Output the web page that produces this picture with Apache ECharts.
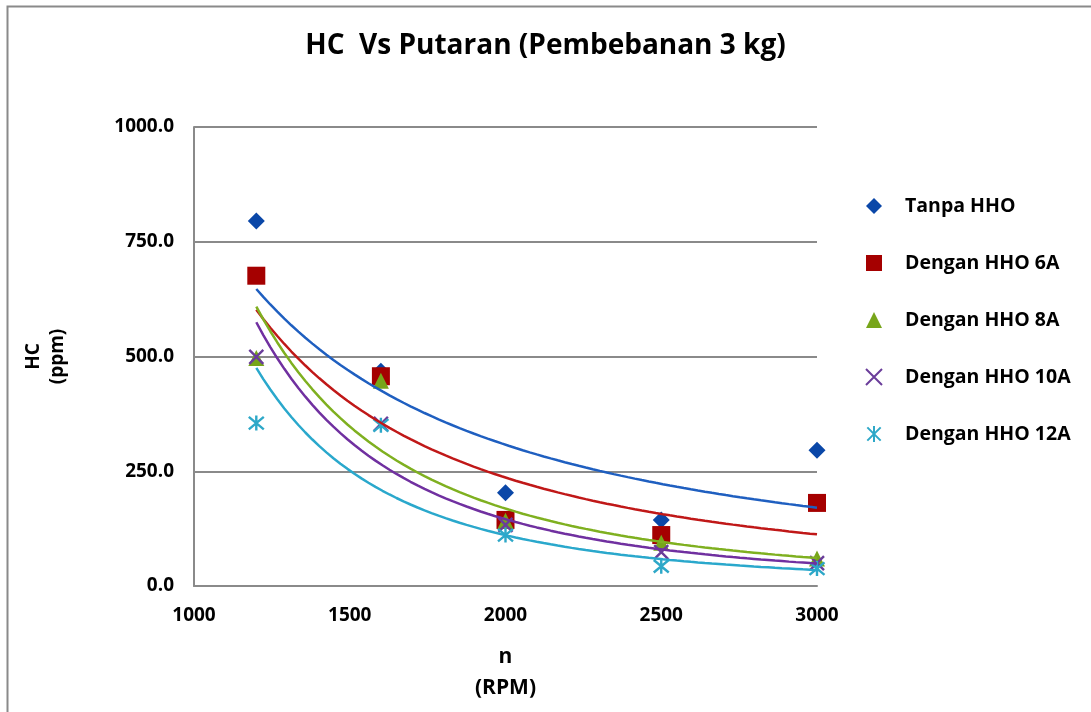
<!DOCTYPE html>
<html><head><meta charset="utf-8">
<script src="https://cdn.jsdelivr.net/npm/echarts@6/dist/echarts.min.js"></script>
<style>html,body{margin:0;padding:0;background:#fff}#c{width:1091px;height:712px}</style>
</head><body><div id="c"></div>
<script>
const rpm = [1200, 1600, 2000, 2500, 3000];
const seriesNames = ['Tanpa HHO', 'Dengan HHO 6A', 'Dengan HHO 8A', 'Dengan HHO 10A', 'Dengan HHO 12A'];
const tanpaHHO = [795, 468, 203, 144, 296];
const hho6A = [676, 457, 144, 111, 181];
const hho8A = [497, 447, 142, 94, 60];
const hho10A = [499, 353, 133, 74, 50];
const hho12A = [355, 350, 111, 43, 38];
const yTicks = [0, 250, 500, 750, 1000];
const xTicks = [1000, 1500, 2000, 2500, 3000];

const allValues = [tanpaHHO, hho6A, hho8A, hho10A, hho12A];
const markerColors = ['#0a47a8', '#a50000', '#77a51a', '#6a3d9a', '#2ea8c8'];
const lineColors = ['#1f5fc0', '#c01818', '#7fb020', '#7030a0', '#2aa8cc'];
const symbols = [
  'diamond', 'rect', 'triangle',
  'path://M0,0L10,10M10,0L0,10',
  'path://M0,0L10,10M10,0L0,10M5,-1L5,11'
];
const symSizes = [17, 18, 16, 14, 15];

// Power trendline (least squares on log-log), as the spreadsheet does
function powerFit(xs, ys) {
  const lx = xs.map(Math.log), ly = ys.map(Math.log);
  const n = xs.length;
  const mx = lx.reduce((a, b) => a + b, 0) / n, my = ly.reduce((a, b) => a + b, 0) / n;
  let sxy = 0, sxx = 0;
  for (let i = 0; i < n; i++) { sxy += (lx[i] - mx) * (ly[i] - my); sxx += (lx[i] - mx) ** 2; }
  const b = sxy / sxx, a = Math.exp(my - b * mx);
  const pts = [];
  const x0 = xs[0], x1 = xs[n - 1];
  for (let k = 0; k <= 80; k++) { const x = x0 + (x1 - x0) * k / 80; pts.push([x, a * Math.pow(x, b)]); }
  return pts;
}

const series = [];
allValues.forEach((vals, i) => {
  const isLine = i >= 3;
  series.push({
    name: seriesNames[i], type: 'scatter', symbol: symbols[i], symbolSize: symSizes[i],
    data: rpm.map((x, j) => [x, vals[j]]),
    itemStyle: isLine ? { color: 'transparent', borderColor: markerColors[i], borderWidth: 2.4, opacity: 1 } : { color: markerColors[i], opacity: 1 },
    z: 3
  });
});
allValues.forEach((vals, i) => {
  series.push({
    name: 'trend' + i, type: 'line', showSymbol: false, silent: true,
    data: powerFit(rpm, vals),
    lineStyle: { color: lineColors[i], width: 2.5 }, z: 4
  });
});

const FONT = '"Open Sans"';
const W = 'bold';
const chart = echarts.init(document.getElementById('c'));
chart.setOption({
  animation: false,
  backgroundColor: '#fff',
  textStyle: { fontFamily: FONT },
  graphic: [{ type: 'rect', left: 5, top: 4, shape: { width: 1200, height: 800 }, style: { fill: 'none', stroke: '#8a8a8a', lineWidth: 2 }, z: -1 }],
  title: {
    text: 'HC  Vs Putaran (Pembebanan 3 kg)', left: 'center', top: 27,
    textStyle: { fontFamily: FONT, fontWeight: W, fontSize: 28, color: '#000' }
  },
  legend: {
    orient: 'vertical', left: 860, top: 188, itemGap: 31, itemWidth: 16, itemHeight: 16,
    data: seriesNames,
    textStyle: { fontFamily: FONT, fontWeight: W, fontSize: 19.5, color: '#000', lineHeight: 26, padding: [0, 0, 0, 18] }
  },
  grid: { left: 194, right: 274, top: 127, bottom: 126, containLabel: false },
  xAxis: {
    type: 'value', min: 1000, max: 3000, interval: 500,
    name: 'n\n(RPM)', nameLocation: 'middle', nameGap: 56,
    nameTextStyle: { fontFamily: FONT, fontWeight: W, fontSize: 21, color: '#000', lineHeight: 31 },
    axisLine: { lineStyle: { color: '#8a8a8a', width: 2 } },
    axisTick: { show: false },
    splitLine: { show: false },
    axisLabel: { margin: 20, fontFamily: FONT, fontWeight: W, fontSize: 19, color: '#000', formatter: v => String(v) }
  },
  yAxis: {
    type: 'value', min: 0, max: 1000, interval: 250,
    name: 'HC\n(ppm)', nameLocation: 'middle', nameGap: 124, nameRotate: 90,
    nameTextStyle: { fontFamily: FONT, fontWeight: W, fontSize: 19, color: '#000', lineHeight: 24 },
    axisLine: { show: true, lineStyle: { color: '#8a8a8a', width: 2 } },
    axisTick: { show: false },
    splitLine: { lineStyle: { color: '#8a8a8a', width: 2 } },
    axisLabel: { margin: 20, fontFamily: FONT, fontWeight: W, fontSize: 19, color: '#000', formatter: v => v.toFixed(1) }
  },
  series: series
});
</script></body></html>
